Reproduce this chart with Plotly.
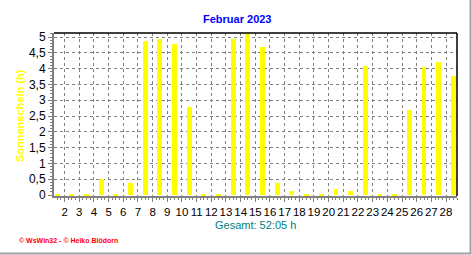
import plotly.graph_objects as go

days = list(range(1, 29))
sunshine = [0.03, 0.03, 0.03, 0.52, 0.03, 0.37, 4.87, 4.95, 4.77, 2.78,
            0.03, 0.03, 4.95, 5.12, 4.70, 0.37, 0.12, 0.03, 0.03, 0.18,
            0.12, 4.10, 0.03, 0.03, 2.68, 4.04, 4.20, 3.78]
x_labels = [str(k) for k in range(2, 29)]
x_label_pos = [k - 0.5 for k in range(2, 29)]
y_ticks = [0, 0.5, 1, 1.5, 2, 2.5, 3, 3.5, 4, 4.5, 5]
y_labels = ["0", "0,5", "1", "1,5", "2", "2,5", "3", "3,5", "4", "4,5", "5"]

title_text = "Februar 2023"
y_title = "Sonnenschein (h)"
total_text = "Gesamt: 52:05 h"
credit_text = "© WsWin32 - © Heiko Blödorn"

W, H = 472, 255
L, R, T, B = 54, 15, 33, 59
pw = W - L - R
ph = H - T - B

def px(xp):
    return (xp - L) / pw

def py(yp):
    return (H - B - yp) / ph

font = "Liberation Sans, Arial, sans-serif"

fig = go.Figure(go.Bar(
    x=days, y=sunshine, width=0.34,
    marker=dict(color="#FFFF00", line=dict(width=0)),
    hoverinfo="skip",
))

fig.update_layout(
    width=W, height=H,
    margin=dict(l=L, r=R, t=T, b=B),
    paper_bgcolor="white", plot_bgcolor="white",
    showlegend=False,
    font=dict(family=font, size=12, color="black"),
    bargap=0,
)

fig.update_xaxes(
    range=[0.775, 28.25],
    tickmode="array", tickvals=x_label_pos, ticktext=x_labels,
    tickangle=0,
    ticks="outside", ticklen=4, tickcolor="#808080", tickwidth=1,
    showgrid=True, gridcolor="#808080", griddash="3px,3px", gridwidth=1,
    showline=True, linecolor="#808080", linewidth=2,
    zeroline=False,
    tickfont=dict(size=11.5, color="black", family=font),
    minor=dict(dtick=0.25, tick0=0.5, ticks="outside", ticklen=2, tickcolor="#808080", showgrid=False),
)
fig.update_yaxes(
    range=[-0.03, 5.13],
    tickmode="array", tickvals=y_ticks, ticktext=y_labels,
    ticks="outside", ticklen=4, tickcolor="#808080", tickwidth=1,
    showgrid=True, gridcolor="#808080", griddash="3px,3px", gridwidth=1,
    showline=True, linecolor="#808080", linewidth=2,
    zeroline=False,
    tickfont=dict(size=12, color="black", family=font),
    minor=dict(dtick=0.1, tick0=0, ticks="outside", ticklen=2, tickcolor="#808080", showgrid=False),
)

shapes = [
    dict(type="line", xref="paper", yref="paper", x0=0, x1=1, y0=1, y1=1,
         line=dict(color="black", width=1.5)),
    dict(type="line", xref="paper", yref="paper", x0=1, x1=1, y0=0, y1=1,
         line=dict(color="black", width=1.5)),
    dict(type="line", xref="paper", yref="paper", x0=px(470.5), x1=px(470.5), y0=py(0), y1=py(254),
         line=dict(color="#A0A0A0", width=2)),
    dict(type="line", xref="paper", yref="paper", x0=px(0), x1=px(471.5), y0=py(253.5), y1=py(253.5),
         line=dict(color="#A0A0A0", width=2)),
]
fig.update_layout(shapes=shapes)

annotations = [
    dict(text="<b>" + title_text + "</b>", xref="paper", yref="paper",
         x=px(237), y=py(19), showarrow=False, xanchor="center", yanchor="middle",
         font=dict(size=11, color="#0000FF", family=font)),
    dict(text="<b>" + y_title + "</b>", xref="paper", yref="paper",
         x=px(20), y=py(116), showarrow=False, textangle=-90,
         xanchor="center", yanchor="middle",
         font=dict(size=11, color="#FFFF00", family=font)),
    dict(text=total_text, xref="paper", yref="paper",
         x=px(256), y=py(225), showarrow=False, xanchor="center", yanchor="middle",
         font=dict(size=11, color="#008080", family=font)),
    dict(text="<b>" + credit_text + "</b>", xref="paper", yref="paper",
         x=px(17), y=py(240), showarrow=False, xanchor="left", yanchor="middle",
         font=dict(size=7, color="#FF0000", family=font)),
]
fig.update_layout(annotations=annotations)

fig.write_html("out.html")
